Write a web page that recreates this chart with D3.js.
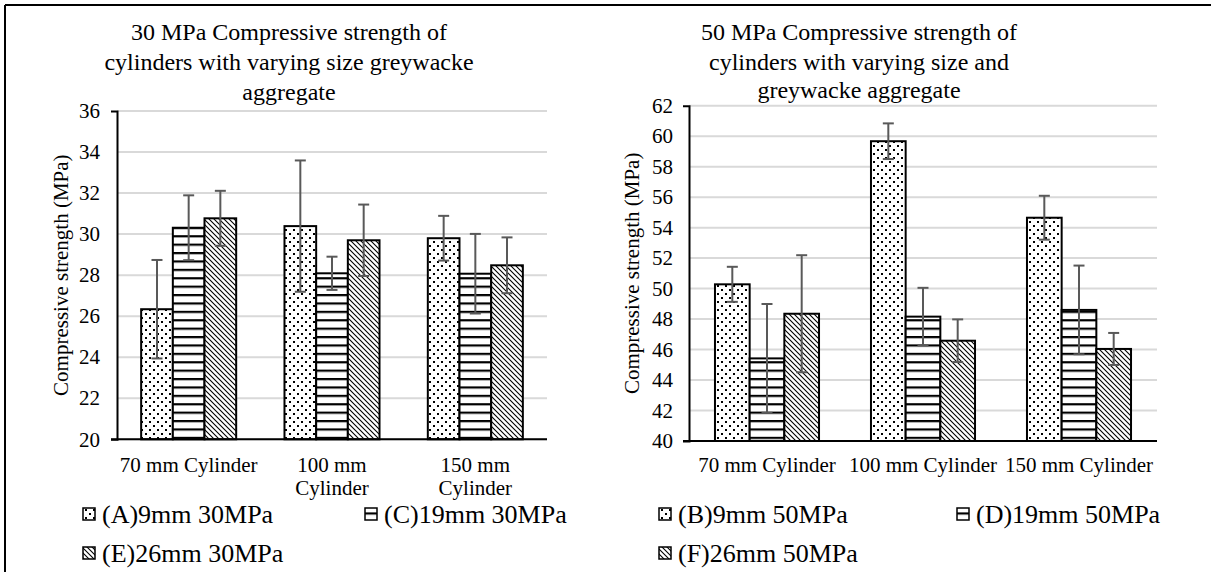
<!DOCTYPE html>
<html>
<head>
<meta charset="utf-8">
<script src="https://cdn.jsdelivr.net/npm/d3@7"></script>
<style>
  html, body { margin: 0; padding: 0; background: #fff; }
  svg { display: block; }
  svg text { font-family: "Liberation Serif", "Tinos", "Times New Roman", "Times", "Nimbus Roman", "DejaVu Serif", serif !important; }
</style>
</head>
<body>
<svg id="fig" width="1211" height="572"></svg>
<script>
// Cylinder sizes shared by both charts
const categories = ["70 mm Cylinder", "100 mm Cylinder", "150 mm Cylinder"];

// 30 MPa mixes: mean strength and error half-width per cylinder size
const series30 = ["(A)9mm 30MPa", "(C)19mm 30MPa", "(E)26mm 30MPa"];
const mean30A = [26.34, 30.39, 29.80];
const err30A  = [2.40, 3.20, 1.09];
const mean30C = [30.31, 28.09, 28.07];
const err30C  = [1.58, 0.81, 1.94];
const mean30E = [30.77, 29.70, 28.48];
const err30E  = [1.34, 1.74, 1.36];
const ticks30 = [20, 22, 24, 26, 28, 30, 32, 34, 36];

// 50 MPa mixes
const series50 = ["(B)9mm 50MPa", "(D)19mm 50MPa", "(F)26mm 50MPa"];
const mean50B = [50.28, 59.67, 54.65];
const err50B  = [1.15, 1.17, 1.44];
const mean50D = [45.42, 48.16, 48.60];
const err50D  = [3.57, 1.89, 2.91];
const mean50F = [48.35, 46.58, 46.04];
const err50F  = [3.84, 1.40, 1.05];
const ticks50 = [40, 42, 44, 46, 48, 50, 52, 54, 56, 58, 60, 62];

const title30 = ["30 MPa Compressive strength of", "cylinders with varying size greywacke", "aggregate"];
const title50 = ["50 MPa Compressive strength of", "cylinders with varying size and", "greywacke aggregate"];
const yTitle = "Compressive strength (MPa)";

const svg = d3.select("#fig");
const defs = svg.append("defs");

// Fill patterns: dots, horizontal stripes, downward diagonals
const pDots = defs.append("pattern").attr("id", "pat-dots")
  .attr("patternUnits", "userSpaceOnUse").attr("width", 8).attr("height", 8);
pDots.append("rect").attr("width", 8).attr("height", 8).attr("fill", "#fff");
pDots.append("rect").attr("x", 1).attr("y", 1).attr("width", 2).attr("height", 2).attr("fill", "#000");
pDots.append("rect").attr("x", 5).attr("y", 5).attr("width", 2).attr("height", 2).attr("fill", "#000");

const pH = defs.append("pattern").attr("id", "pat-hlines")
  .attr("patternUnits", "userSpaceOnUse").attr("width", 8).attr("height", 8.4);
pH.append("rect").attr("width", 8).attr("height", 8.4).attr("fill", "#fff");
pH.append("rect").attr("y", 0).attr("width", 8).attr("height", 2.2).attr("fill", "#000");

const pD = defs.append("pattern").attr("id", "pat-diag")
  .attr("patternUnits", "userSpaceOnUse").attr("width", 5).attr("height", 5);
pD.append("rect").attr("width", 5).attr("height", 5).attr("fill", "#fff");
pD.append("path").attr("d", "M0,0L5,5M-1,4L1,6M4,-1L6,1")
  .attr("stroke", "#000").attr("stroke-width", 1.1);

const fills = ["url(#pat-dots)", "url(#pat-hlines)", "url(#pat-diag)"];

// Outer frame (top and left edges)
svg.append("line").attr("x1", 5).attr("x2", 1211).attr("y1", 5).attr("y2", 5)
  .attr("stroke", "#000").attr("stroke-width", 2);
svg.append("line").attr("x1", 5).attr("x2", 5).attr("y1", 5).attr("y2", 572)
  .attr("stroke", "#000").attr("stroke-width", 2);

function wrapLabel(textSel, width, lineH) {
  textSel.each(function () {
    const t = d3.select(this);
    const words = t.text().split(/\s+/);
    const x = t.attr("x");
    t.text(null);
    let line = [];
    let tspan = t.append("tspan").attr("x", x).attr("dy", 0);
    for (const w of words) {
      line.push(w);
      tspan.text(line.join(" "));
      if (tspan.node().getComputedTextLength() > width && line.length > 1) {
        line.pop();
        tspan.text(line.join(" "));
        line = [w];
        tspan = t.append("tspan").attr("x", x).attr("dy", lineH).text(w);
      }
    }
  });
}

function drawChart(cfg) {
  const g = svg.append("g");
  const y = d3.scaleLinear().domain([cfg.ticks[0], cfg.ticks[cfg.ticks.length - 1]])
    .range([cfg.bottom, cfg.top]);
  const x = d3.scaleBand().domain(categories).range([cfg.left, cfg.right])
    .paddingInner(cfg.pad).paddingOuter(cfg.pad / 2);
  const xs = d3.scaleBand().domain(cfg.series).range([0, x.bandwidth()]);

  // Gridlines
  g.append("g").selectAll("line").data(cfg.ticks).join("line")
    .attr("x1", cfg.left).attr("x2", cfg.right)
    .attr("y1", d => y(d)).attr("y2", d => y(d))
    .attr("stroke", "#d9d9d9").attr("stroke-width", 2);

  // Y axis
  const ya = g.append("g").attr("transform", `translate(${cfg.left},0)`)
    .call(d3.axisLeft(y).tickValues(cfg.ticks).tickSizeInner(0).tickSizeOuter(6)
      .tickPadding(cfg.tickPad).tickFormat(d3.format("d")));
  ya.attr("font-family", null);
  ya.select(".domain").attr("stroke", "#000").attr("stroke-width", 2);
  ya.selectAll("text").attr("font-size", 21).attr("fill", "#000");

  // Bars
  const rows = [];
  cfg.series.forEach((s, si) => {
    categories.forEach((c, ci) => {
      rows.push({ s, si, c, v: cfg.means[si][ci], e: cfg.errs[si][ci] });
    });
  });
  g.append("g").selectAll("rect").data(rows).join("rect")
    .attr("x", d => x(d.c) + xs(d.s))
    .attr("width", xs.bandwidth())
    .attr("y", d => y(d.v))
    .attr("height", d => y(cfg.ticks[0]) - y(d.v))
    .attr("fill", d => fills[d.si])
    .attr("stroke", "#000").attr("stroke-width", 2);

  // X axis line
  g.append("line").attr("x1", cfg.left - 6).attr("x2", cfg.right)
    .attr("y1", cfg.bottom).attr("y2", cfg.bottom)
    .attr("stroke", "#000").attr("stroke-width", 2);

  // Error bars
  const eb = g.append("g").attr("stroke", "#595959").attr("stroke-width", 2);
  rows.forEach(d => {
    const cx = x(d.c) + xs(d.s) + xs.bandwidth() / 2;
    eb.append("line").attr("x1", cx).attr("x2", cx)
      .attr("y1", y(d.v + d.e)).attr("y2", y(d.v - d.e));
    [d.v + d.e, d.v - d.e].forEach(v => {
      eb.append("line").attr("x1", cx - 5.5).attr("x2", cx + 5.5)
        .attr("y1", y(v)).attr("y2", y(v));
    });
  });

  // Category labels
  g.append("g").selectAll("text").data(categories).join("text")
    .attr("x", d => x(d) + x.bandwidth() / 2)
    .attr("y", cfg.catY)
    .attr("text-anchor", "middle").attr("font-size", 21).attr("fill", "#000")
    .text(d => d)
    .call(wrapLabel, x.step(), 23);

  // Y axis title
  g.append("text")
    .attr("transform", `translate(${cfg.yTitleX},${(cfg.top + cfg.bottom) / 2}) rotate(-90)`)
    .attr("text-anchor", "middle").attr("dominant-baseline", "central")
    .attr("font-size", 21).attr("fill", "#000").text(yTitle);

  // Chart title
  g.append("g").selectAll("text").data(cfg.title).join("text")
    .attr("x", cfg.titleX).attr("y", (d, i) => cfg.titleY[i])
    .attr("text-anchor", "middle").attr("font-size", 24).attr("fill", "#000")
    .text(d => d);

  // Legend
  const lg = g.append("g");
  cfg.series.forEach((s, i) => {
    const p = cfg.legendPos[i];
    lg.append("rect").attr("x", p[0]).attr("y", p[1] - 15).attr("width", 12).attr("height", 12)
      .attr("fill", fills[i]).attr("stroke", "#000").attr("stroke-width", 1.5);
    lg.append("text").attr("x", p[0] + 19).attr("y", p[1])
      .attr("font-size", 26).attr("fill", "#000").text(s);
  });
}

drawChart({
  series: series30,
  means: [mean30A, mean30C, mean30E],
  errs: [err30A, err30C, err30E],
  ticks: ticks30,
  left: 117, right: 547, top: 111, bottom: 439.3,
  pad: 0.337, tickPad: 17,
  catY: 472, yTitleX: 61,
  title: title30, titleX: 289, titleY: [40, 70, 100],
  legendPos: [[83, 523], [365, 523], [83, 562]]
});

drawChart({
  series: series50,
  means: [mean50B, mean50D, mean50F],
  errs: [err50B, err50D, err50F],
  ticks: ticks50,
  left: 689, right: 1157, top: 105.7, bottom: 441,
  pad: 0.333, tickPad: 16,
  catY: 472, yTitleX: 632,
  title: title50, titleX: 859, titleY: [40, 70, 98],
  legendPos: [[659, 523], [957, 523], [659, 562]]
});
</script>
</body>
</html>
